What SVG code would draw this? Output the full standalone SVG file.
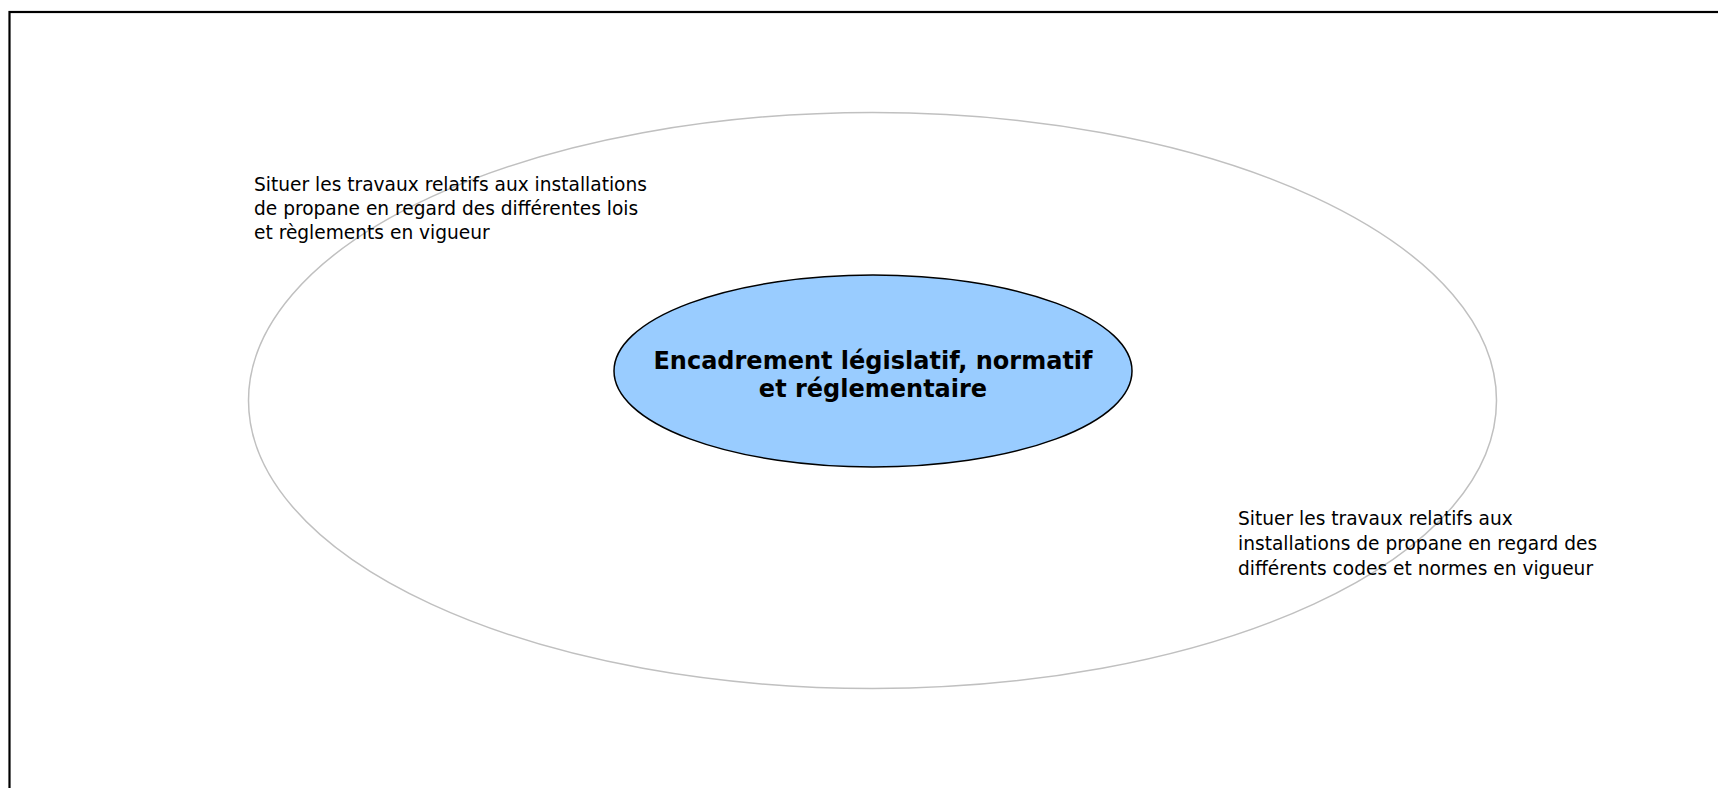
<svg xmlns="http://www.w3.org/2000/svg" width="1718" height="788" viewBox="0 0 1718 788">
<style>
.frame{fill:none;stroke:#000;stroke-width:2.2}
.outer{fill:none;stroke:#c0c0c0;stroke-width:1.5}
.inner{fill:#99ccff;stroke:#000;stroke-width:1.5}
.lbl{font-family:"DejaVu Sans",Verdana,sans-serif;font-size:18.6px;fill:#000}
.title{font-family:"DejaVu Sans",Verdana,sans-serif;font-size:24px;font-weight:bold;fill:#000;text-anchor:middle}
</style>
<rect class="frame" x="9.5" y="12" width="1730" height="800"/>
<g id="connectors"></g>
<g id="outer">
<ellipse class="outer" cx="872.5" cy="400.5" rx="624" ry="288"/>
</g>
<g id="label-left">
<text class="lbl" x="254" y="190.5">Situer les travaux relatifs aux installations</text>
<text class="lbl" x="254" y="214.5">de propane en regard des différentes lois</text>
<text class="lbl" x="254" y="238.5">et règlements en vigueur</text>
</g>
<g id="label-right">
<text class="lbl" x="1238" y="525">Situer les travaux relatifs aux</text>
<text class="lbl" x="1238" y="550">installations de propane en regard des</text>
<text class="lbl" x="1238" y="575">différents codes et normes en vigueur</text>
</g>
<g id="center">
<ellipse class="inner" cx="873" cy="371" rx="259" ry="96"/>
<text class="title" x="873" y="369">Encadrement législatif, normatif</text>
<text class="title" x="873" y="397">et réglementaire</text>
</g>
</svg>
